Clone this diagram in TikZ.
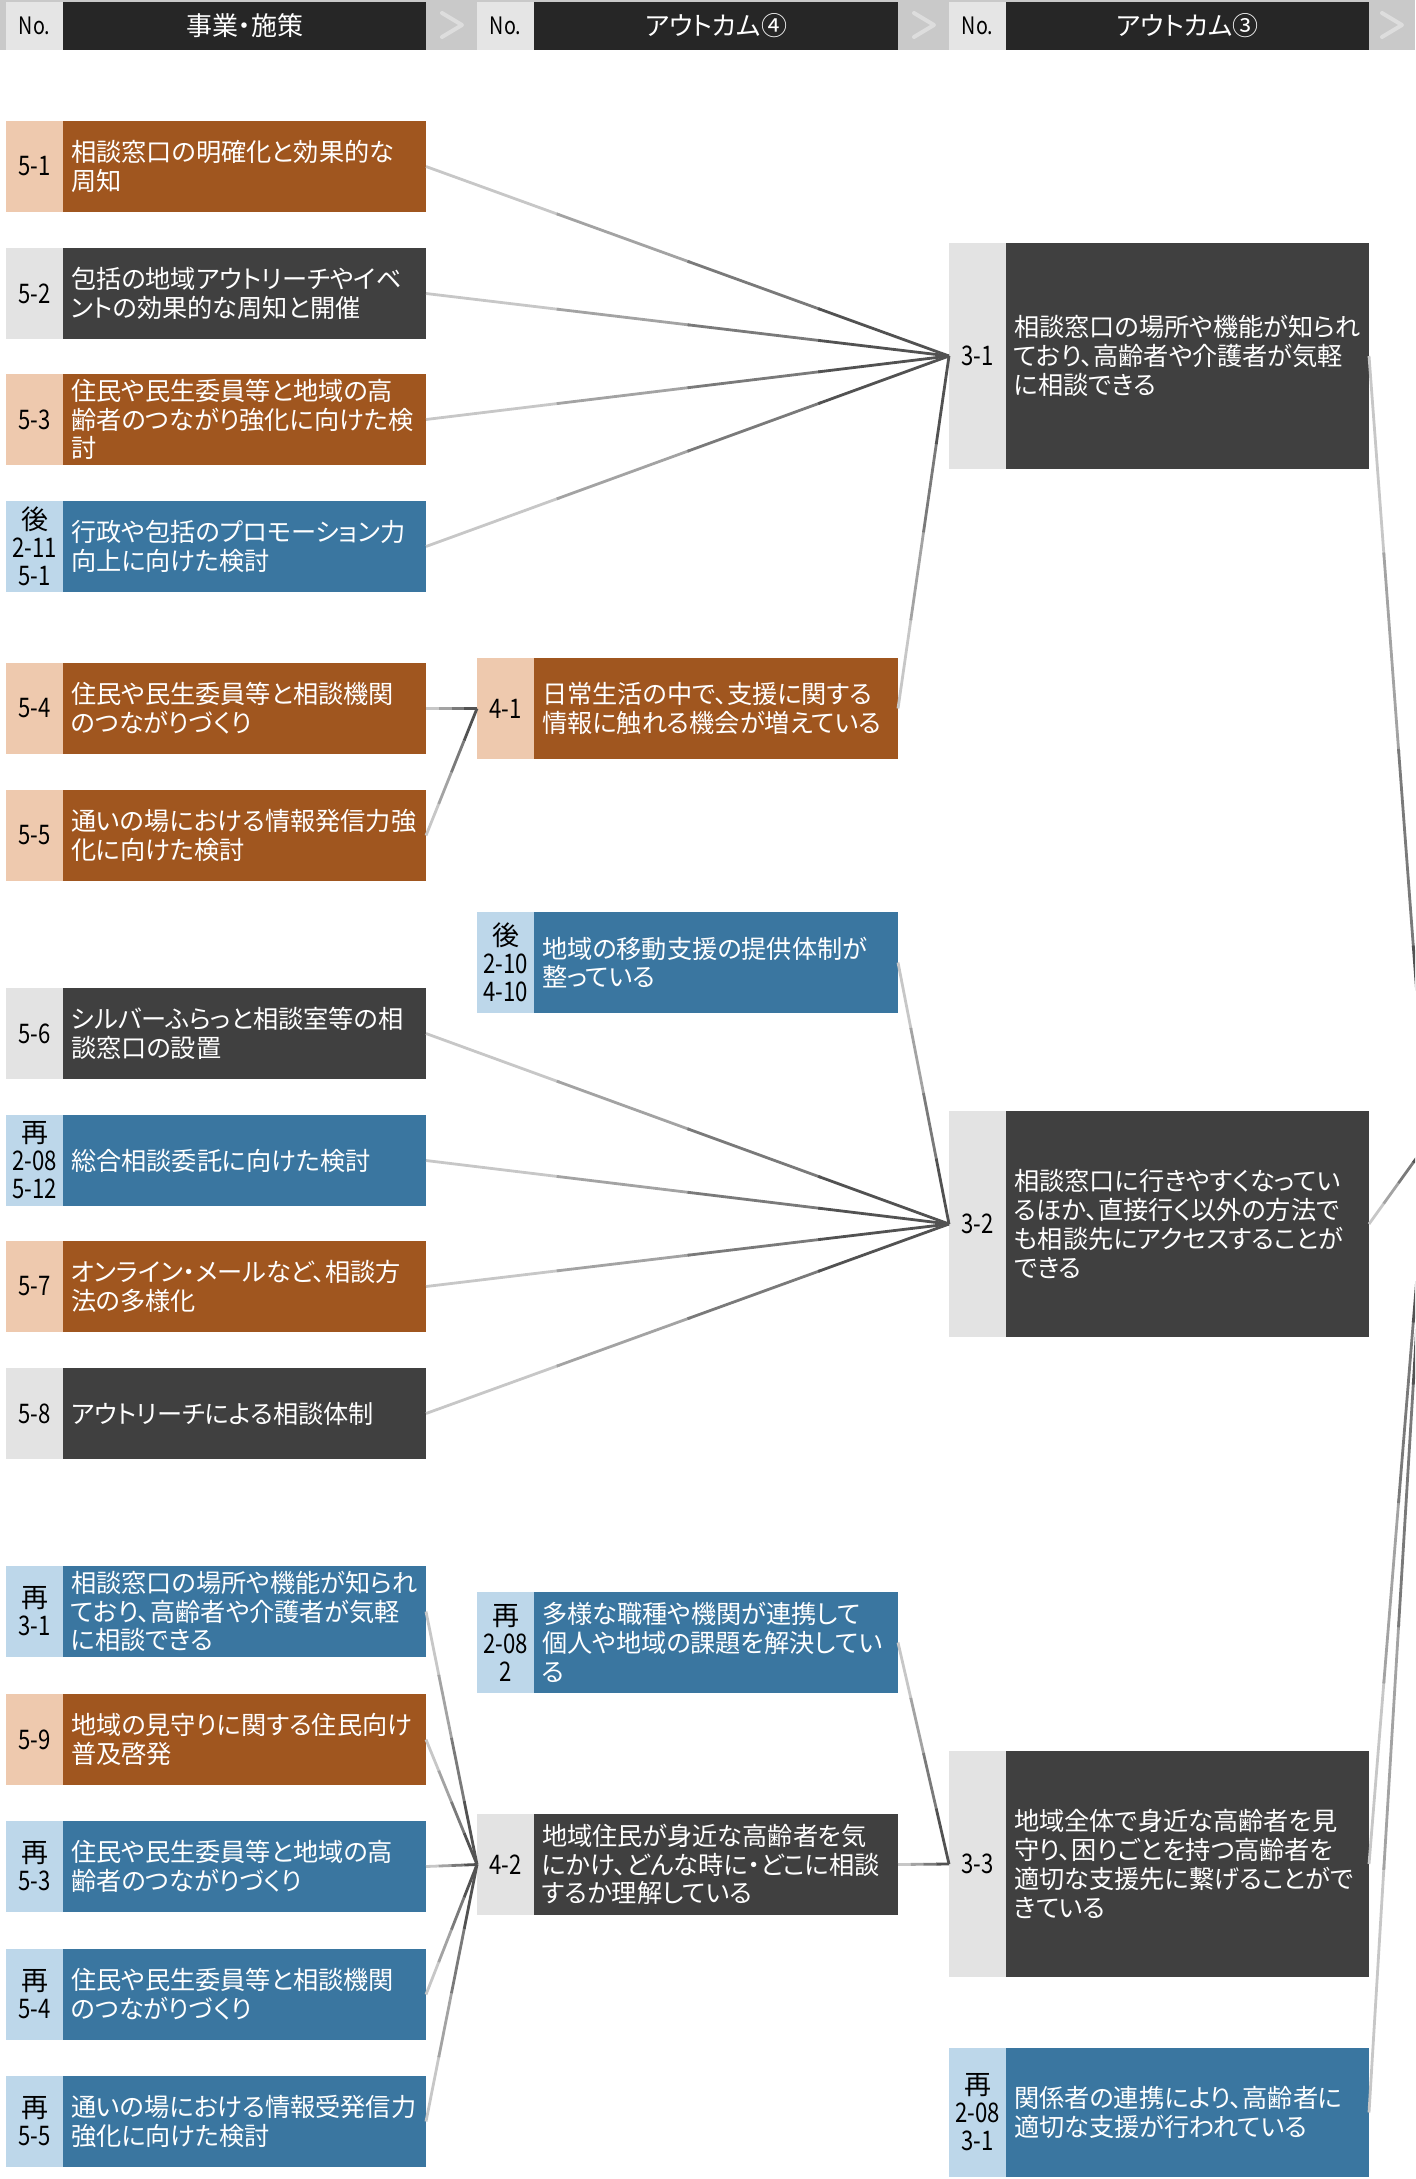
\documentclass[tikz,border=0pt]{standalone}
\usepackage{fontspec}
\setmainfont{Noto Sans CJK JP}[RawFeature=+palt]
\newfontfamily\numfont{Noto Sans CJK JP}[FakeStretch=0.82]
\usetikzlibrary{positioning,calc}

\definecolor{orgdark}{HTML}{A0561F}
\definecolor{orglight}{HTML}{EEC9AE}
\definecolor{graydark}{HTML}{404040}
\definecolor{graylight}{HTML}{E3E3E3}
\definecolor{bluedark}{HTML}{3A76A0}
\definecolor{bluelight}{HTML}{BDD7EA}
\definecolor{headdark}{HTML}{262626}
\definecolor{headband}{HTML}{C9C9C9}
\definecolor{headno}{HTML}{E5E5E5}
\definecolor{chevgray}{HTML}{DDDDDD}

\newcommand\kj[1]{{\rmfamily #1}}
\newcommand\link[2]{%
	\foreach \a/\b/\c in {0/0.255/lk1,0.25/0.505/lk2,0.5/0.755/lk3,0.75/1/lk4}
		\draw[\c] ($(#1.east)!\a!(#2)$) -- ($(#1.east)!\b!(#2)$);}

\begin{document}
\begin{tikzpicture}[x=0.5pt,y=-0.5pt,
	every node/.style={inner sep=0pt,outer sep=0pt},
	numbox/.style={minimum width=28.5pt,align=center,text=black,font=\numfont\fontsize{13.5pt}{14pt}\selectfont},
	txtbox/.style={text width=173.5pt,inner xsep=4pt,align=left,text=white,font=\fontsize{12.6pt}{14.4pt}\selectfont},
	lh/.style={minimum height=45.5pt},
	mh/.style={minimum height=50.5pt},
	rh/.style={minimum height=113pt},
	rs/.style={minimum height=64.5pt},
	orgno/.style={numbox,fill=orglight},
	orgtxt/.style={txtbox,fill=orgdark},
	grayno/.style={numbox,fill=graylight},
	graytxt/.style={txtbox,fill=graydark},
	blueno/.style={numbox,fill=bluelight},
	bluetxt/.style={txtbox,fill=bluedark},
	headnum/.style={minimum width=28.5pt,minimum height=24pt,fill=headno,font=\numfont\fontsize{12pt}{12pt}\selectfont},
	headtxt/.style={minimum height=24pt,fill=headdark,text=white,font=\fontsize{13pt}{14pt}\selectfont},
	chev/.style={chevgray,line width=2pt,line cap=round,line join=round},
	lk1/.style={line width=1.4pt,color=black!22},
	lk2/.style={line width=1.4pt,color=black!36},
	lk3/.style={line width=1.4pt,color=black!52},
	lk4/.style={line width=1.4pt,color=black!68}]
	\useasboundingbox (0,0) rectangle (1415,2179);
	\clip (0,0) rectangle (1415,2179);

	% header
	\fill[headband] (0,0) rectangle (1415,50);
	\node[headnum,anchor=north west] (h1no) at (6,2) {No.};
	\node[headtxt,minimum width=181.5pt,right=0pt of h1no] (h1) {事業・施策};
	\node[headnum,anchor=north west] (h2no) at (477,2) {No.};
	\node[headtxt,minimum width=182pt,right=0pt of h2no] (h2) {アウトカム④};
	\node[headnum,anchor=north west] (h3no) at (949,2) {No.};
	\node[headtxt,minimum width=181.5pt,right=0pt of h3no] (h3) {アウトカム③};
	\foreach \x in {442,914,1382}
		\draw[chev] (\x,13) -- ++(20,12) -- ++(-20,12);

	% left column
	\node[orgno,lh,anchor=north west] (l1no) at (6,121) {5-1};
	\node[orgtxt,lh,right=0pt of l1no] (l1) {相談窓口の明確化と効果的な\\周知};
	\node[grayno,lh,anchor=north west] (l2no) at (6,248) {5-2};
	\node[graytxt,lh,right=0pt of l2no] (l2) {包括の地域アウトリーチやイベ\\ントの効果的な周知と開催};
	\node[orgno,lh,anchor=north west] (l3no) at (6,374) {5-3};
	\node[orgtxt,lh,right=0pt of l3no] (l3) {住民や民生委員等と地域の高\\齢者のつながり強化に向けた検\\討};
	\node[blueno,lh,anchor=north west] (l4no) at (6,501) {\kj{後}\\2-11\\5-1};
	\node[bluetxt,lh,right=0pt of l4no] (l4) {行政や包括のプロモーション力\\向上に向けた検討};
	\node[orgno,lh,anchor=north west] (l5no) at (6,663) {5-4};
	\node[orgtxt,lh,right=0pt of l5no] (l5) {住民や民生委員等と相談機関\\のつながりづくり};
	\node[orgno,lh,anchor=north west] (l6no) at (6,790) {5-5};
	\node[orgtxt,lh,right=0pt of l6no] (l6) {通いの場における情報発信力強\\化に向けた検討};
	\node[grayno,lh,anchor=north west] (l7no) at (6,988) {5-6};
	\node[graytxt,lh,right=0pt of l7no] (l7) {シルバーふらっと相談室等の相\\談窓口の設置};
	\node[blueno,lh,anchor=north west] (l8no) at (6,1115) {\kj{再}\\2-08\\5-12};
	\node[bluetxt,lh,right=0pt of l8no] (l8) {総合相談委託に向けた検討};
	\node[orgno,lh,anchor=north west] (l9no) at (6,1241) {5-7};
	\node[orgtxt,lh,right=0pt of l9no] (l9) {オンライン・メールなど、相談方\\法の多様化};
	\node[grayno,lh,anchor=north west] (l10no) at (6,1368) {5-8};
	\node[graytxt,lh,right=0pt of l10no] (l10) {アウトリーチによる相談体制};
	\node[blueno,lh,anchor=north west] (l11no) at (6,1566) {\kj{再}\\3-1};
	\node[bluetxt,lh,right=0pt of l11no] (l11) {相談窓口の場所や機能が知られ\\ており、高齢者や介護者が気軽\\に相談できる};
	\node[orgno,lh,anchor=north west] (l12no) at (6,1694) {5-9};
	\node[orgtxt,lh,right=0pt of l12no] (l12) {地域の見守りに関する住民向け\\普及啓発};
	\node[blueno,lh,anchor=north west] (l13no) at (6,1821) {\kj{再}\\5-3};
	\node[bluetxt,lh,right=0pt of l13no] (l13) {住民や民生委員等と地域の高\\齢者のつながりづくり};
	\node[blueno,lh,anchor=north west] (l14no) at (6,1949) {\kj{再}\\5-4};
	\node[bluetxt,lh,right=0pt of l14no] (l14) {住民や民生委員等と相談機関\\のつながりづくり};
	\node[blueno,lh,anchor=north west] (l15no) at (6,2076) {\kj{再}\\5-5};
	\node[bluetxt,lh,right=0pt of l15no] (l15) {通いの場における情報受発信力\\強化に向けた検討};

	% middle column
	\node[orgno,mh,anchor=north west] (m1no) at (477,658) {4-1};
	\node[orgtxt,mh,text width=174pt,right=0pt of m1no] (m1) {日常生活の中で、支援に関する\\情報に触れる機会が増えている};
	\node[blueno,mh,anchor=north west] (m2no) at (477,912) {\kj{後}\\2-10\\4-10};
	\node[bluetxt,mh,text width=174pt,right=0pt of m2no] (m2) {地域の移動支援の提供体制が\\整っている};
	\node[blueno,mh,anchor=north west] (m3no) at (477,1592) {\kj{再}\\2-08\\2};
	\node[bluetxt,mh,text width=174pt,right=0pt of m3no] (m3) {多様な職種や機関が連携して\\個人や地域の課題を解決してい\\る};
	\node[grayno,mh,anchor=north west] (m4no) at (477,1814) {4-2};
	\node[graytxt,mh,text width=174pt,right=0pt of m4no] (m4) {地域住民が身近な高齢者を気\\にかけ、どんな時に・どこに相談\\するか理解している};

	% right column
	\node[grayno,rh,anchor=north west] (r1no) at (949,243) {3-1};
	\node[graytxt,rh,right=0pt of r1no] (r1) {相談窓口の場所や機能が知られ\\ており、高齢者や介護者が気軽\\に相談できる};
	\node[grayno,rh,anchor=north west] (r2no) at (949,1111) {3-2};
	\node[graytxt,rh,right=0pt of r2no] (r2) {相談窓口に行きやすくなってい\\るほか、直接行く以外の方法で\\も相談先にアクセスすることが\\できる};
	\node[grayno,rh,anchor=north west] (r3no) at (949,1751) {3-3};
	\node[graytxt,rh,right=0pt of r3no] (r3) {地域全体で身近な高齢者を見\\守り、困りごとを持つ高齢者を\\適切な支援先に繋げることがで\\きている};
	\node[blueno,rs,anchor=north west] (r4no) at (949,2048) {\kj{再}\\2-08\\3-1};
	\node[bluetxt,rs,right=0pt of r4no] (r4) {関係者の連携により、高齢者に\\適切な支援が行われている};

	\coordinate (hub) at (1428,1142);

	% connectors
	\foreach \s in {l1,l2,l3,l4,m1}
		\link{\s}{r1no.west};
	\foreach \s in {l5,l6}
		\link{\s}{m1no.west};
	\foreach \s in {m2,l7,l8,l9,l10}
		\link{\s}{r2no.west};
	\foreach \s in {m3,m4}
		\link{\s}{r3no.west};
	\foreach \s in {l11,l12,l13,l14,l15}
		\link{\s}{m4no.west};
	\foreach \s in {r1,r2,r3,r4}
		\link{\s}{hub};
\end{tikzpicture}
\end{document}
